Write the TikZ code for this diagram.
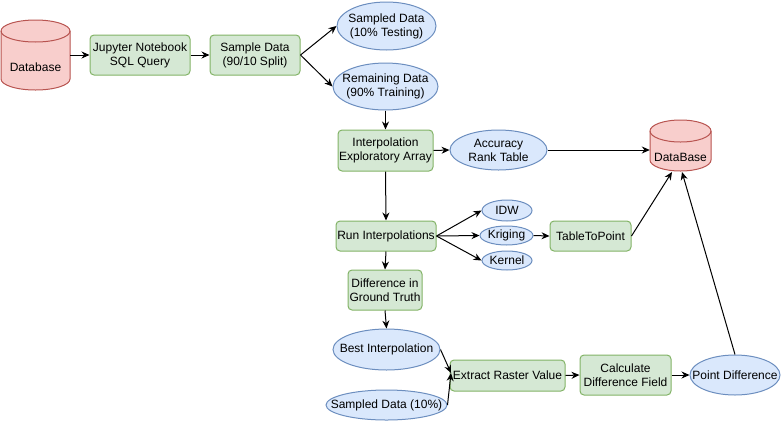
\documentclass[tikz,border=0pt]{standalone}
\usepackage{fontspec}
\setmainfont{Liberation Sans}
\usetikzlibrary{shapes.geometric,arrows.meta}
\definecolor{gfill}{HTML}{D5E8D4}
\definecolor{gstroke}{HTML}{82B366}
\definecolor{bfill}{HTML}{DAE8FC}
\definecolor{bstroke}{HTML}{6C8EBF}
\definecolor{rfill}{HTML}{F8CECC}
\definecolor{rstroke}{HTML}{B85450}
\begin{document}
\begin{tikzpicture}[x=1pt,y=-1pt,
  txt/.style={font=\fontsize{12}{14}\selectfont, align=center},
  box/.style={txt, draw=gstroke, fill=gfill, rounded corners=4pt, line width=1pt, inner sep=0pt},
  ell/.style={draw=bstroke, fill=bfill, ellipse, line width=1pt, inner sep=0pt, label={[txt]center:#1}},
  cyl/.style={draw=rstroke, fill=rfill, line width=1pt},
  arr/.style={-{Stealth[length=8pt,width=7pt]}, line width=1pt},
  hold/.style={inner sep=0pt}]
\useasboundingbox (0,0) rectangle (781,421);

% Cylinders
\node[hold, minimum width=69, minimum height=70] (db) at (35.5,55) {};
\draw[cyl] (1,31) -- (1,79) arc[start angle=180,end angle=360,x radius=34.5pt,y radius=11pt]
  -- (70,31) arc[start angle=0,end angle=180,x radius=34.5pt,y radius=11pt] -- cycle;
\draw[cyl, fill=none] (1,31) arc[start angle=180,end angle=360,x radius=34.5pt,y radius=11pt];
\node[txt] (dbt) at (35.5,67) {Database};

\node[hold, minimum width=61, minimum height=51] (dbb) at (680.5,145.5) {};
\draw[cyl] (650,131) -- (650,160) arc[start angle=180,end angle=360,x radius=30.5pt,y radius=11pt]
  -- (711,131) arc[start angle=0,end angle=180,x radius=30.5pt,y radius=11pt] -- cycle;
\draw[cyl, fill=none] (650,131) arc[start angle=180,end angle=360,x radius=30.5pt,y radius=11pt];
\node[txt] (dbbt) at (680.5,157) {DataBase};

% Boxes
\node[box, minimum width=100, minimum height=40] (jup) at (140,55) {Jupyter Notebook\\SQL Query};
\node[box, minimum width=90, minimum height=40] (sd) at (255,55) {Sample Data\\(90/10 Split)};
\node[box, minimum width=95, minimum height=41] (iea) at (385.5,150.5) {Interpolation\\Exploratory Array};
\node[box, minimum width=100, minimum height=30] (run) at (386,236) {Run Interpolations};
\node[box, minimum width=81, minimum height=30] (ttp) at (590.5,236) {TableToPoint};
\node[box, minimum width=74, minimum height=40] (dgt) at (385,290) {Difference in\\Ground Truth};
\node[box, minimum width=115, minimum height=31] (erv) at (507.5,375.5) {Extract Raster Value};
\node[box, minimum width=91, minimum height=40] (cdf) at (625.5,375) {Calculate\\Difference Field};

% Ellipses
\node[ell={Sampled Data\\(10\% Testing)}, minimum width=99, minimum height=48] (samp) at (386.5,26) {};
\node[ell={Remaining Data\\(90\% Training)}, minimum width=105, minimum height=47] (rem) at (385.5,86.5) {};
\node[ell={Accuracy\\Rank Table}, minimum width=97, minimum height=40] (acc) at (498.5,150) {};
\node[ell={IDW}, minimum width=50, minimum height=21] (idw) at (507,210.5) {};
\node[ell={Kriging}, minimum width=53, minimum height=19] (kri) at (506.5,235.5) {};
\node[ell={Kernel}, minimum width=50, minimum height=19] (ker) at (507,260.5) {};
\node[ell={Best Interpolation}, minimum width=107, minimum height=41] (best) at (386.5,349.5) {};
\node[ell={Sampled Data (10\%)}, minimum width=121, minimum height=30] (s10) at (386.5,405) {};
\node[ell={Point Difference}, minimum width=90, minimum height=40] (pd) at (735,375) {};

\coordinate (din1) at (672,172);
\coordinate (din2) at (682,172);
\coordinate (ein) at (451,373);

% Connectors
\draw[arr] (db.east) -- (jup.west);
\draw[arr] (jup.east) -- (sd.west);
\draw[arr] (sd.east) -- (samp.west);
\draw[arr] (sd.east) -- (rem.west);
\draw[arr] (rem.south) -- (iea.north);
\draw[arr] (iea.east) -- (acc.west);
\draw[arr] (acc.east) -- (acc.east -| dbb.west);
\draw[arr] (iea.south) -- (run.north);
\draw[arr] (run.east) -- (idw.west);
\draw[arr] (run.east) -- (kri.west);
\draw[arr] (run.east) -- (ker.west);
\draw[arr] (kri.east) -- (ttp.west);
\draw[arr] (ttp.east) -- (din1);
\draw[arr] (run.south) -- (dgt.north);
\draw[arr] (dgt.south) -- (best.north);
\draw[arr] (best.east) -- (ein);
\draw[arr] (s10.east) -- (ein);
\draw[arr] (erv.east) -- (cdf.west);
\draw[arr] (cdf.east) -- (pd.west);
\draw[arr] (pd.north) -- (din2);
\end{tikzpicture}
\end{document}
